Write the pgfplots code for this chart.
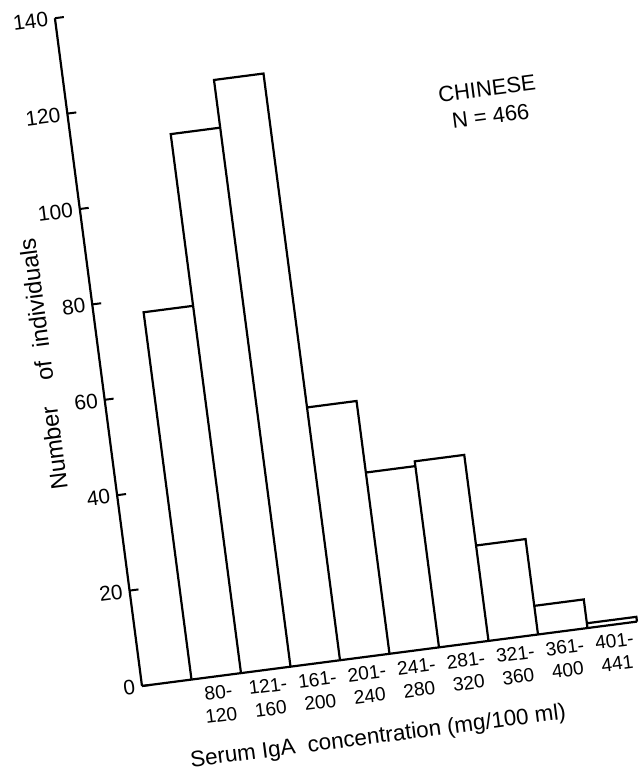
\documentclass[border=0pt]{standalone}
\usepackage{fontspec}
\setmainfont{Liberation Sans}
\usepackage{pgfplots}
\pgfplotsset{compat=1.18}
\begin{document}
\begin{tikzpicture}
\path[use as bounding box] (0,0) rectangle (319.5pt,386.5pt);
\begin{axis}[
  at={(71pt,43.5pt)}, anchor=origin,
  x={(24.75pt,3.22pt)}, y={(-0.311pt,2.385pt)},
  xmin=0, xmax=10, ymin=0, ymax=140,
  axis x line*=bottom, axis y line*=left,
  axis line style={line width=1.1pt, black},
  ytick={0,20,...,140},
  xtick={1.5,2.5,...,9.5},
  xticklabels={80-\\120, 121-\\160, 161-\\200, 201-\\240, 241-\\280, 281-\\320, 321-\\360, 361-\\400, 401-\\441},
  x tick style={draw=none},
  y tick style={line width=1pt, black},
  tick align=inside,
  major tick length=4.5pt,
  /pgf/number format/assume math mode=true,
  yticklabel style={font=\fontsize{10.5}{12}\selectfont, anchor=east, rotate=7.4},
  xticklabel style={font=\fontsize{9.6}{11.5}\selectfont, align=center, anchor=north, rotate=7.4, inner sep=0pt, yshift=-4.5pt},
  clip=false,
  xlabel={Serum IgA\ \ concentration (mg/100 ml)},
  ylabel={Number\ \ \ \ of\ \ individuals},
  every axis x label/.style={at={(axis cs:4.56,-16.9)}, anchor=center, rotate=7.4, inner sep=0pt, font=\fontsize{11.2}{13}\selectfont},
  every axis y label/.style={at={(axis cs:-1.13,69)}, anchor=center, rotate=97.4, font=\fontsize{11.8}{13}\selectfont},
]
\addplot[line width=1.1pt, black, mark=none] coordinates {
(1,0)(1,77)(2,77)(2,0)(2,113)(3,113)(3,0)(3,123)(4,123)(4,0)(4,53)(5,53)(5,0)(5,38)(6,38)(6,0)(6,39)(7,39)(7,0)(7,20)(8,20)(8,0)(8,6)(9,6)(9,0)(9,1)(10,1)(10,0)};
\node[align=center, rotate=7.4, font=\fontsize{11}{14}\selectfont] at (axis cs:8.4,111) {CHINESE\\N = 466};
\end{axis}
\end{tikzpicture}
\end{document}
